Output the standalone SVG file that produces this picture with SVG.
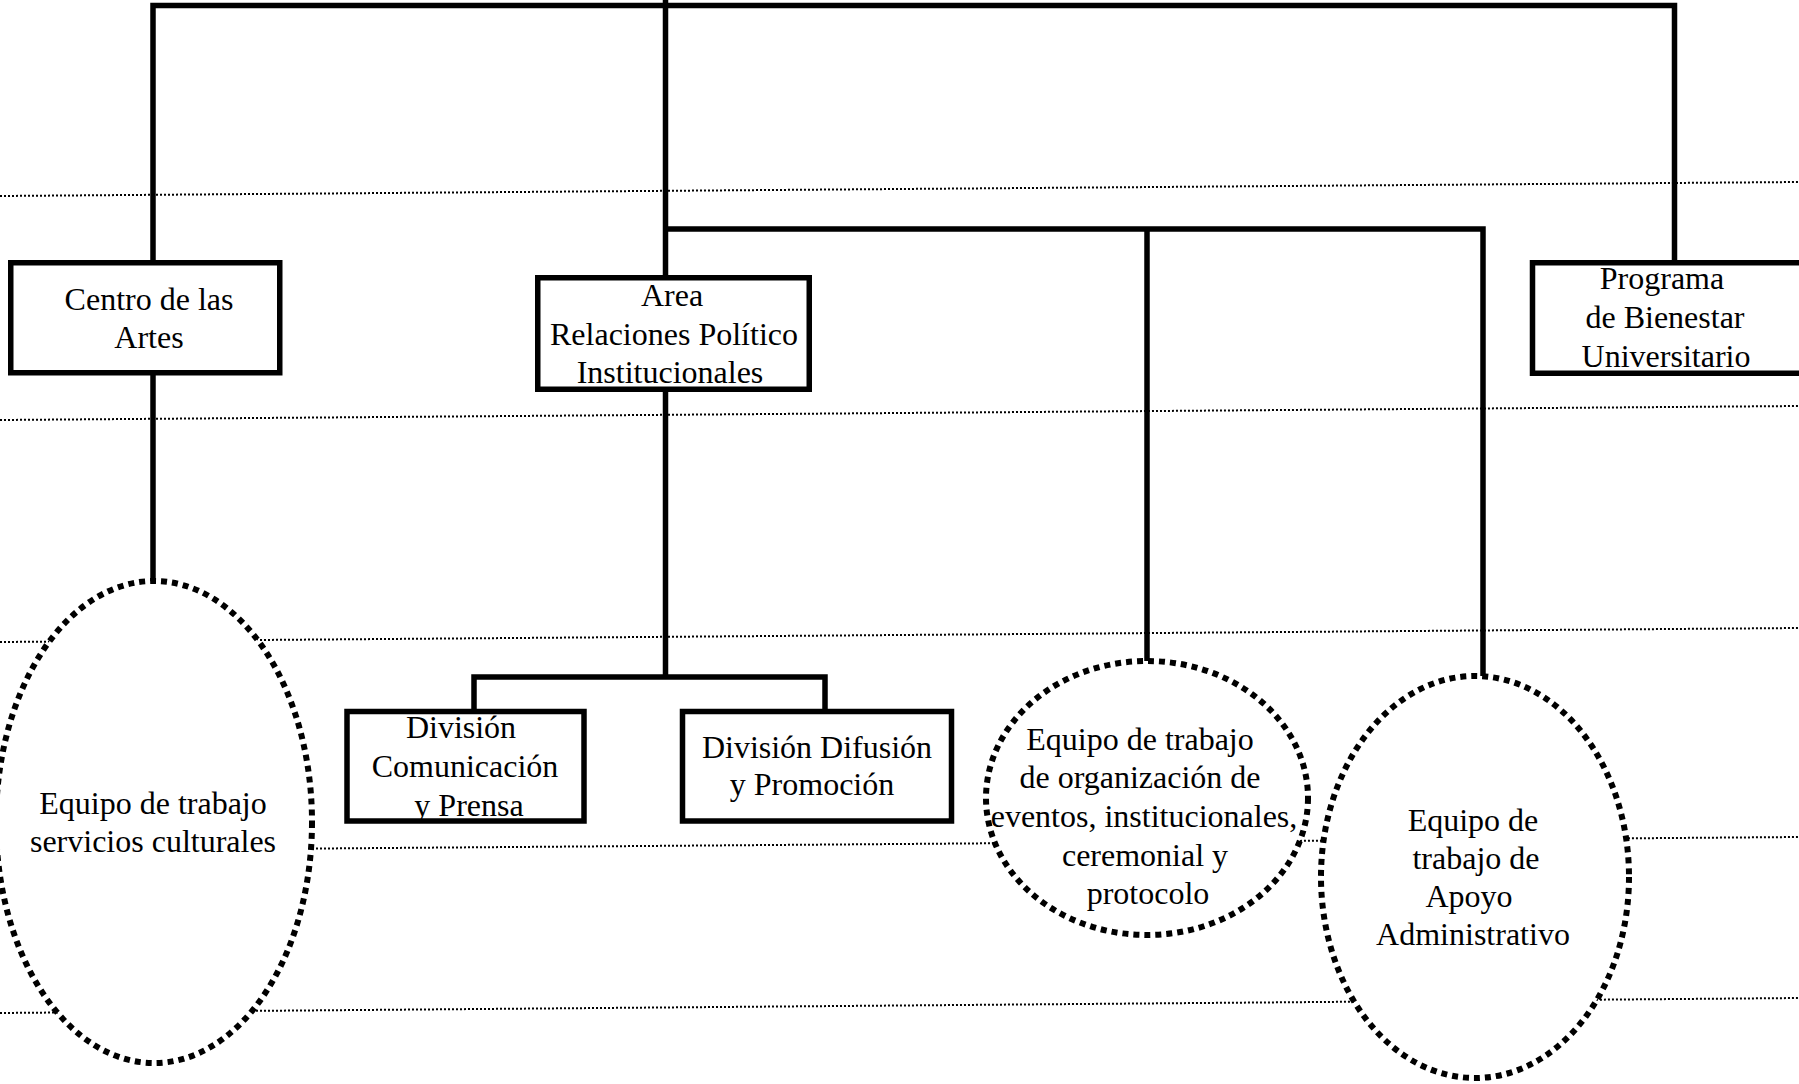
<svg xmlns="http://www.w3.org/2000/svg" width="1799" height="1084" viewBox="0 0 1799 1084">
<style>
.guide{stroke:#000;stroke-width:2;stroke-dasharray:2 2;fill:none}
.conn{stroke:#000;stroke-width:5.5;fill:none;stroke-linejoin:miter;stroke-linecap:butt}
.box{fill:#fff;stroke:#000;stroke-width:5.5}
.oval{fill:#fff;stroke:#000;stroke-width:6;stroke-dasharray:6 5}
text{font-family:"Liberation Serif","Times New Roman",serif;font-size:32px;fill:#000;text-anchor:middle}
</style>
<rect width="1799" height="1084" fill="#fff"/>
<g id="guides">
<line class="guide" x1="0" y1="196" x2="1799" y2="182"/>
<line class="guide" x1="0" y1="420" x2="1799" y2="406"/>
<line class="guide" x1="0" y1="642" x2="1799" y2="628"/>
<line class="guide" x1="0" y1="851" x2="1799" y2="837"/>
<line class="guide" x1="0" y1="1013" x2="1799" y2="998"/>
</g>
<g id="connectors">
<path class="conn" d="M153,262 V5.5 H1674.5 V262"/>
<path class="conn" d="M665.5,0 V677"/>
<path class="conn" d="M665.5,229 H1483 V676"/>
<path class="conn" d="M1147,229 V661"/>
<path class="conn" d="M153,374 V581"/>
<path class="conn" d="M474,711 V677 H825 V711"/>
</g>
<g id="centro-artes">
<rect class="box" x="10.75" y="262.75" width="269" height="110"/>
<text x="149" y="310">Centro de las</text>
<text x="149" y="348">Artes</text>
</g>
<g id="area-relaciones">
<rect class="box" x="537.75" y="277.75" width="271.5" height="111.5"/>
<text x="672" y="306">Area</text>
<text x="674" y="345">Relaciones Político</text>
<text x="670" y="383">Institucionales</text>
</g>
<g id="programa-bienestar">
<rect class="box" x="1532.5" y="262.75" width="300" height="110.5"/>
<text x="1662" y="289">Programa</text>
<text x="1665" y="328">de Bienestar</text>
<text x="1666" y="367">Universitario</text>
</g>
<g id="equipo-servicios">
<ellipse class="oval" cx="154" cy="822" rx="158" ry="241"/>
<text x="153" y="814">Equipo de trabajo</text>
<text x="153" y="852">servicios culturales</text>
</g>
<g id="division-comunicacion">
<rect class="box" x="347" y="711.5" width="237" height="109.5"/>
<text x="461" y="738">División</text>
<text x="465" y="777">Comunicación</text>
<text x="469" y="816">y Prensa</text>
</g>
<g id="division-difusion">
<rect class="box" x="682.5" y="711.5" width="269" height="109.5"/>
<text x="817" y="758">División Difusión</text>
<text x="812" y="795">y Promoción</text>
</g>
<g id="equipo-eventos">
<ellipse class="oval" cx="1147" cy="798" rx="161" ry="137"/>
<text x="1140" y="750">Equipo de trabajo</text>
<text x="1140" y="788">de organización de</text>
<text x="1144" y="827">eventos, institucionales,</text>
<text x="1145" y="866">ceremonial y</text>
<text x="1148" y="904">protocolo</text>
</g>
<g id="equipo-apoyo">
<ellipse class="oval" cx="1475" cy="877" rx="154" ry="201"/>
<text x="1473" y="831">Equipo de</text>
<text x="1476" y="869">trabajo de</text>
<text x="1469" y="907">Apoyo</text>
<text x="1473" y="945">Administrativo</text>
</g>
</svg>
